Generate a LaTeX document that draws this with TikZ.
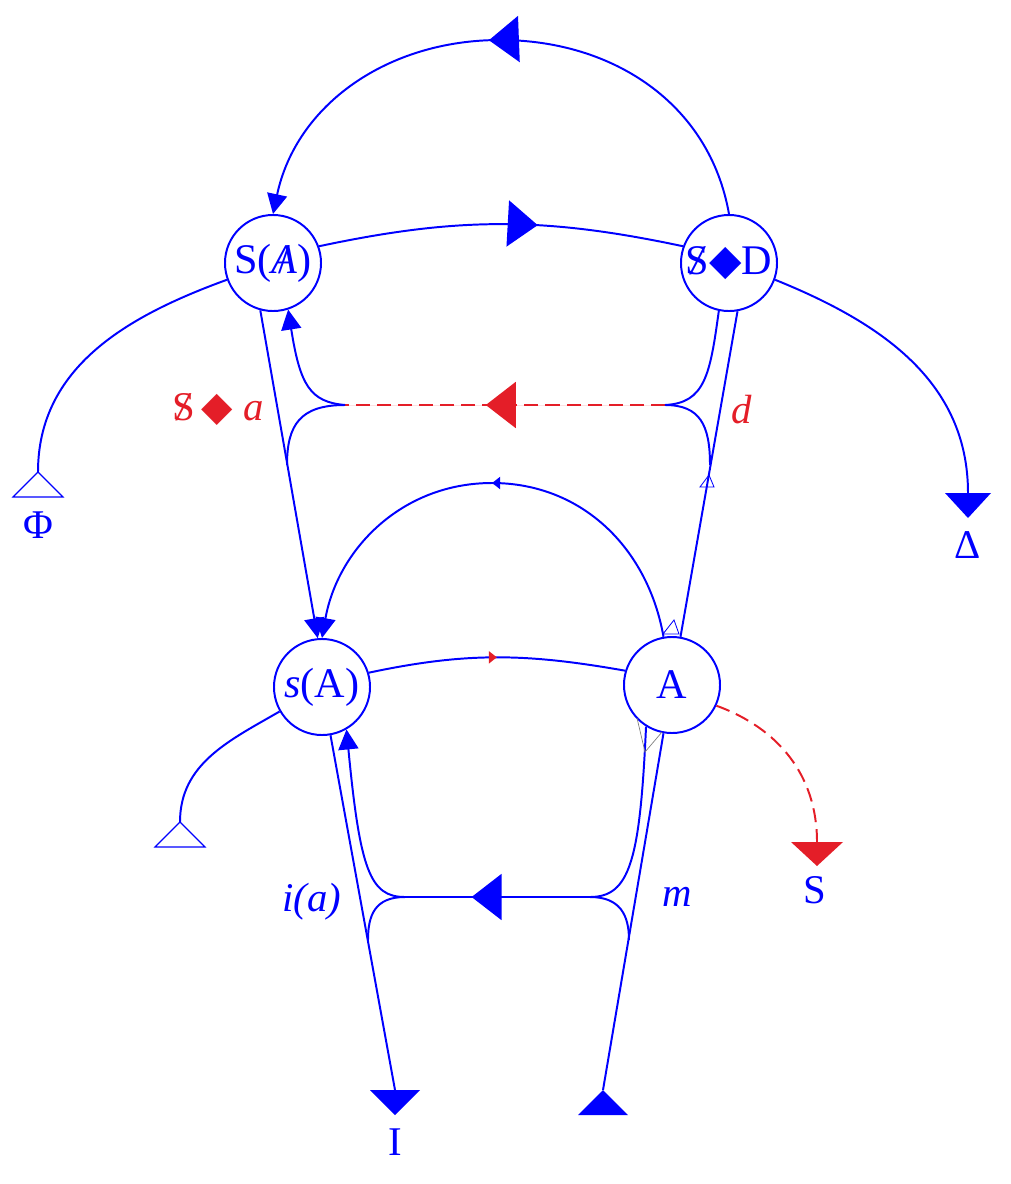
\documentclass[tikz,border=0pt]{standalone}
\usepackage{fontspec}
\setmainfont{Liberation Serif}
\newfontfamily\dvs{DejaVu Sans}
\usetikzlibrary{arrows.meta,decorations.markings}
\definecolor{gblue}{RGB}{0,0,255}
\definecolor{gred}{RGB}{228,30,40}
\newcommand\lozen{{\dvs\char"25C6}}
\newcommand\barS{\ooalign{S\cr\hidewidth\itshape/\hidewidth}}
\newcommand\barA{\ooalign{\itshape A\cr\hidewidth/\hidewidth}}

\begin{document}
\begin{tikzpicture}[x=0.025cm,y=0.025cm,
    line width=1.4pt,
    every path/.style={gblue},
    place/.style={draw=gblue, circle, minimum size=2.4cm, inner sep=0pt, line width=1.4pt,
        text=gblue, font=\fontsize{30}{32}\selectfont},
    lab/.style={text=gblue, font=\fontsize{29}{32}\selectfont},
    redlab/.style={text=gred, font=\fontsize{29}{32}\selectfont},
    tip/.style={-{Triangle[length=0.5cm,width=0.5cm]}},
    midbig/.style={postaction={decorate},decoration={markings,
        mark=at position #1 with {\arrow[solid]{Triangle[length=0.75cm,width=1.15cm]}}}},
    midsmall/.style={postaction={decorate},decoration={markings,
        mark=at position 0.5 with {\arrow{Triangle[length=0.2cm,width=0.3cm]}}}},
    dash red/.style={gred, dashed, dash pattern=on 10pt off 5pt}]
    \useasboundingbox (0,0) rectangle (1011,-1184);

    % the four places
    \node[place] (SA) at (273,-263) {S(\barA)};
    \node[place] (SD) at (729,-263) {\barS\lozen D};
    \node[place] (sA) at (322,-687) {\textit{s}(A)};
    \node[place] (A)  at (672,-685) {A};

    % upper level
    \draw[midbig=0.52, tip] (SD.north) to[out=100,in=0] (500,-40) to[out=180,in=78] (SA.north);
    \draw[midbig=0.6] (SA.20) to[out=12,in=168] (SD.160);
    \draw[dash red, midbig=0.56, draw=gred, fill=gred] (665,-405) -- (345,-405);
    \draw[tip] (345,-405) .. controls (310,-402) and (300,-385) .. (SA.288);
    \draw (345,-405) .. controls (300,-405) and (287,-425) .. (287,-465);
    \draw (SD.258) .. controls (710,-375) and (705,-403) .. (665,-405);
    \draw (665,-405) .. controls (700,-405) and (710,-425) .. (710,-465);
    \draw[tip] (SA.255) -- (sA.95);
    \draw (A.80) -- (SD.280);

    % lower level
    \draw[midsmall, tip] (A.100) to[out=100,in=0] (492,-483) to[out=180,in=80] (sA.north);
    \draw[postaction={decorate},decoration={markings,
        mark=at position 0.5 with {\arrow[gred]{Triangle[length=0.2cm,width=0.3cm]}}}]
        (sA.17) to[out=12,in=170] (A.163);
    \draw[midbig=0.64] (590,-897) -- (405,-897);
    \draw[tip] (405,-897) .. controls (370,-897) and (360,-870) .. (sA.300);
    \draw (405,-897) .. controls (375,-897) and (368,-915) .. (368,-940);
    \draw (A.238) .. controls (640,-860) and (630,-897) .. (590,-897);
    \draw (590,-897) .. controls (620,-897) and (629,-915) .. (629,-940);
    \draw (sA.280) -- (395,-1090);
    \draw (A.260) -- (603,-1090);

    % side branches
    \draw (SA.200) to[out=200,in=90] (38,-472);
    \draw (SD.340) to[out=-22,in=90] (968,-493);
    \draw (sA.210) to[out=210,in=90] (180,-822);
    \draw[dash red] (A.335) to[out=-20,in=90] (817,-842);

    % end marks
    \draw[line width=0.8pt] (13,-497) -- (63,-497) -- (38,-472) -- cycle;
    \draw[line width=0.8pt] (155,-847) -- (205,-847) -- (180,-822) -- cycle;
    \fill (945,-493) -- (991,-493) -- (968,-518) -- cycle;
    \fill[gred] (791,-842) -- (843,-842) -- (817,-866) -- cycle;
    \fill (370,-1090) -- (420,-1090) -- (395,-1115) -- cycle;
    \fill (578,-1115) -- (628,-1115) -- (603,-1090) -- cycle;
    \draw[line width=0.6pt] (700,-487) -- (714,-487) -- (709,-475) -- cycle;
    \draw[line width=0.6pt] (663,-634) -- (679,-634) -- (674,-620) -- cycle;
    \draw[line width=0.5pt, gray] (637,-718) -- (645,-752) -- (662,-732);

    % labels
    \node[redlab] (lsa) at (218,-410) {\barS\,\lozen\ \textit{a}};
    \node[redlab] (ld)  at (742,-410) {\textit{d}};
    \node[lab] (lia) at (312,-902) {\textit{i(a)}};
    \node[lab] (lm)  at (677,-897) {\textit{m}};
    \node[lab] (lphi) at (38,-525) {Φ};
    \node[lab] (ldel) at (968,-545) {Δ};
    \node[lab] (ls)  at (815,-890) {S};
    \node[lab] (li)  at (395,-1142) {I};
\end{tikzpicture}
\end{document}
